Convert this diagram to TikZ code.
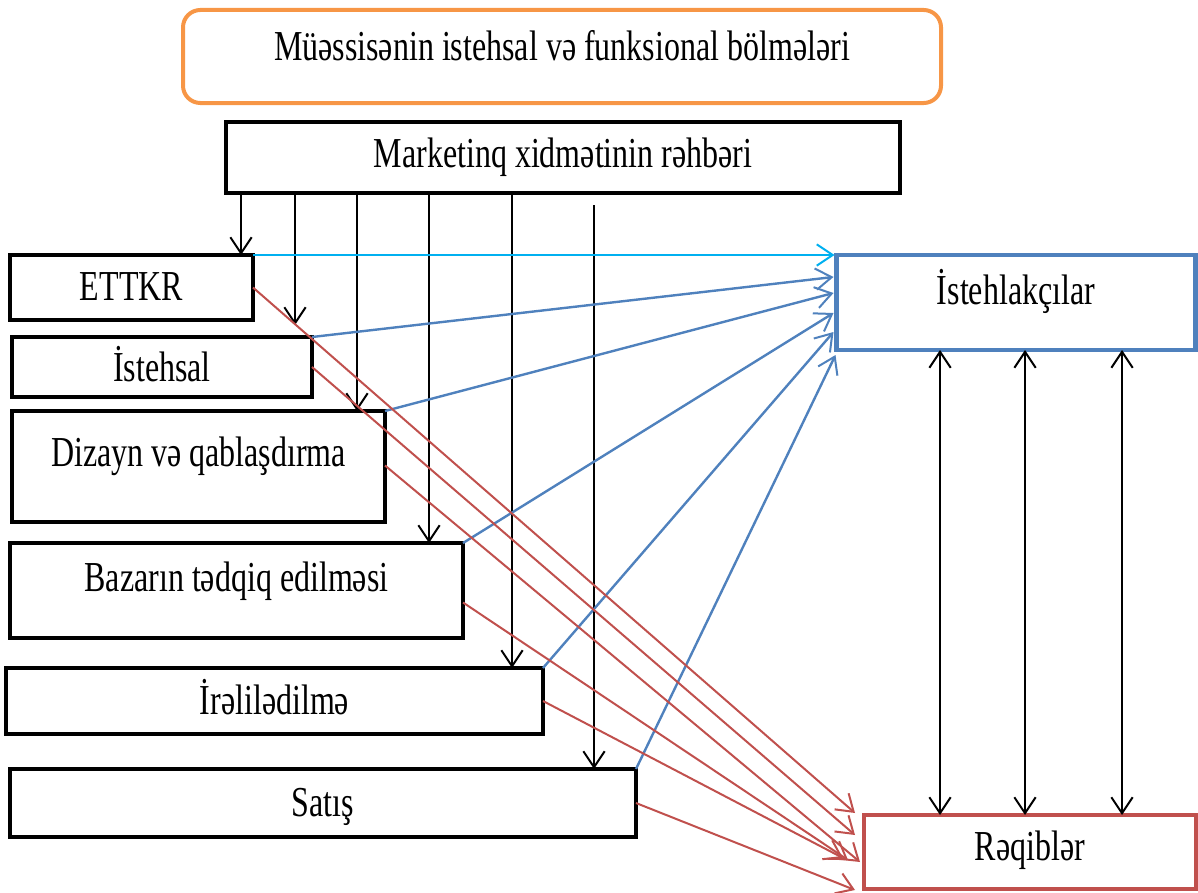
\documentclass[tikz,border=0pt]{standalone}
\usepackage{fontspec}
\setmainfont{Liberation Serif}[FakeStretch=0.75]
\usetikzlibrary{arrows.meta,calc}
\definecolor{corange}{HTML}{F79646}
\definecolor{cblue}{HTML}{4F81BD}
\definecolor{ccyan}{HTML}{00B0F0}
\definecolor{cred}{HTML}{C0504D}
\tikzset{
  x=0.75pt, y=-0.75pt,
  box/.style={draw=black, line width=3.6pt, inner sep=0pt, outer sep=0pt, align=center,
    font=\fontsize{32pt}{36pt}\selectfont, text height=26.5pt, text depth=7pt},
  shiftup/.style={text depth=7pt+2*#1},
  tip/.style={-{Straight Barb[length=12pt,width=16pt,line width=1.5pt]}},
  darr/.style={{Straight Barb[length=12pt,width=16pt,line width=1.5pt]}-{Straight Barb[length=12pt,width=16pt,line width=1.5pt]}},
  blk/.style={tip, draw=black, line width=1.5pt},
  bluearr/.style={tip, draw=cblue, line width=1.8pt},
  cyanarr/.style={tip, draw=ccyan, line width=1.8pt},
  redarr/.style={tip, draw=cred, line width=1.5pt},
}
\begin{document}
\begin{tikzpicture}
\useasboundingbox (0,0) rectangle (1198,892);
% boxes
\node[box, draw=corange, line width=3pt, rounded corners=13pt, minimum width=568.5pt, minimum height=69.75pt, shiftup=6.75pt] (top) at (562,56.5) {Müəssisənin istehsal və funksional bölmələri};
\node[box, minimum width=505.5pt, minimum height=53.25pt, shiftup=1.9pt] (mk) at (563,157.5) {Marketinq xidmətinin rəhbəri};
\node[box, minimum width=182.25pt, minimum height=48.75pt] (ettkr) at (131.5,287.5) {ETTKR};
\node[box, minimum width=225pt, minimum height=45pt, text height=29pt] (ist) at (162,367) {İstehsal};
\node[box, minimum width=279.75pt, minimum height=83.25pt, shiftup=9.75pt] (diz) at (198.5,466.5) {Dizayn və qablaşdırma};
\node[box, minimum width=339.75pt, minimum height=71.25pt, shiftup=9pt] (baz) at (236.5,590.5) {Bazarın tədqiq edilməsi};
\node[box, minimum width=402.75pt, minimum height=49.5pt] (ireli) at (274.5,701) {İrəlilədilmə};
\node[box, minimum width=469.5pt, minimum height=51pt] (satis) at (323,803) {Satış};
\node[box, draw=cblue, line width=3.6pt, minimum width=269.25pt, minimum height=71.25pt, shiftup=8.25pt] (cons) at (1016,302.5) {İstehlakçılar};
\node[box, draw=cred, line width=3.2pt, minimum width=249pt, minimum height=55.5pt, shiftup=3.75pt] (comp) at (1030,852) {Rəqiblər};
% x positions of vertical arrows
\coordinate (v1) at (241,0);
\coordinate (v2) at (295,0);
\coordinate (v3) at (357,0);
\coordinate (v4) at (429,0);
\coordinate (v5) at (512,0);
\coordinate (v6) at (594,0);
\coordinate (w1) at (940,0);
\coordinate (w2) at (1025,0);
\coordinate (w3) at (1122,0);
% black vertical arrows from the head of marketing
\draw[blk] (mk.south -| v1) -- (ettkr.north -| v1);
\draw[blk] (mk.south -| v2) -- ([yshift=9pt]ist.north -| v2);
\draw[blk] (mk.south -| v3) -- (diz.north -| v3);
\draw[blk] (mk.south -| v4) -- (baz.north -| v4);
\draw[blk] (mk.south -| v5) -- (ireli.north -| v5);
\draw[blk] ([yshift=-9pt]mk.south -| v6) -- (satis.north -| v6);
% arrows to consumers
\draw[cyanarr] (ettkr.north east) -- ($(cons.north west)+(-2,0)$);
\draw[bluearr] (ist.north east) -- ($(cons.north west)+(-3,22)$);
\draw[bluearr] (diz.north east) -- ($(cons.north west)+(-3,38)$);
\draw[bluearr] (baz.north east) -- ($(cons.north west)+(-3,58)$);
\draw[bluearr] (ireli.north east) -- ($(cons.north west)+(-3,77)$);
\draw[bluearr] (satis.north east) -- ($(cons.north west)+(-1,100)$);
% arrows to competitors
\draw[redarr] (ettkr.east) -- ($(comp.north west)+(-9,-2)$);
\draw[redarr] (ist.east) -- ($(comp.north west)+(-9,20)$);
\draw[redarr] ($(diz.east)+(0,-1)$) -- ($(comp.north west)+(-4,47)$);
\draw[redarr] ($(baz.east)+(0,12)$) -- ($(comp.north west)+(-16,45)$);
\draw[redarr] (ireli.east) -- ($(comp.north west)+(-21,43)$);
\draw[redarr] (satis.east) -- ($(comp.north west)+(-9,75)$);
% two-way arrows between consumers and competitors
\draw[darr, line width=1.5pt] (cons.south -| w1) -- (comp.north -| w1);
\draw[darr, line width=1.5pt] (cons.south -| w2) -- (comp.north -| w2);
\draw[darr, line width=1.5pt] (cons.south -| w3) -- (comp.north -| w3);
\end{tikzpicture}
\end{document}
